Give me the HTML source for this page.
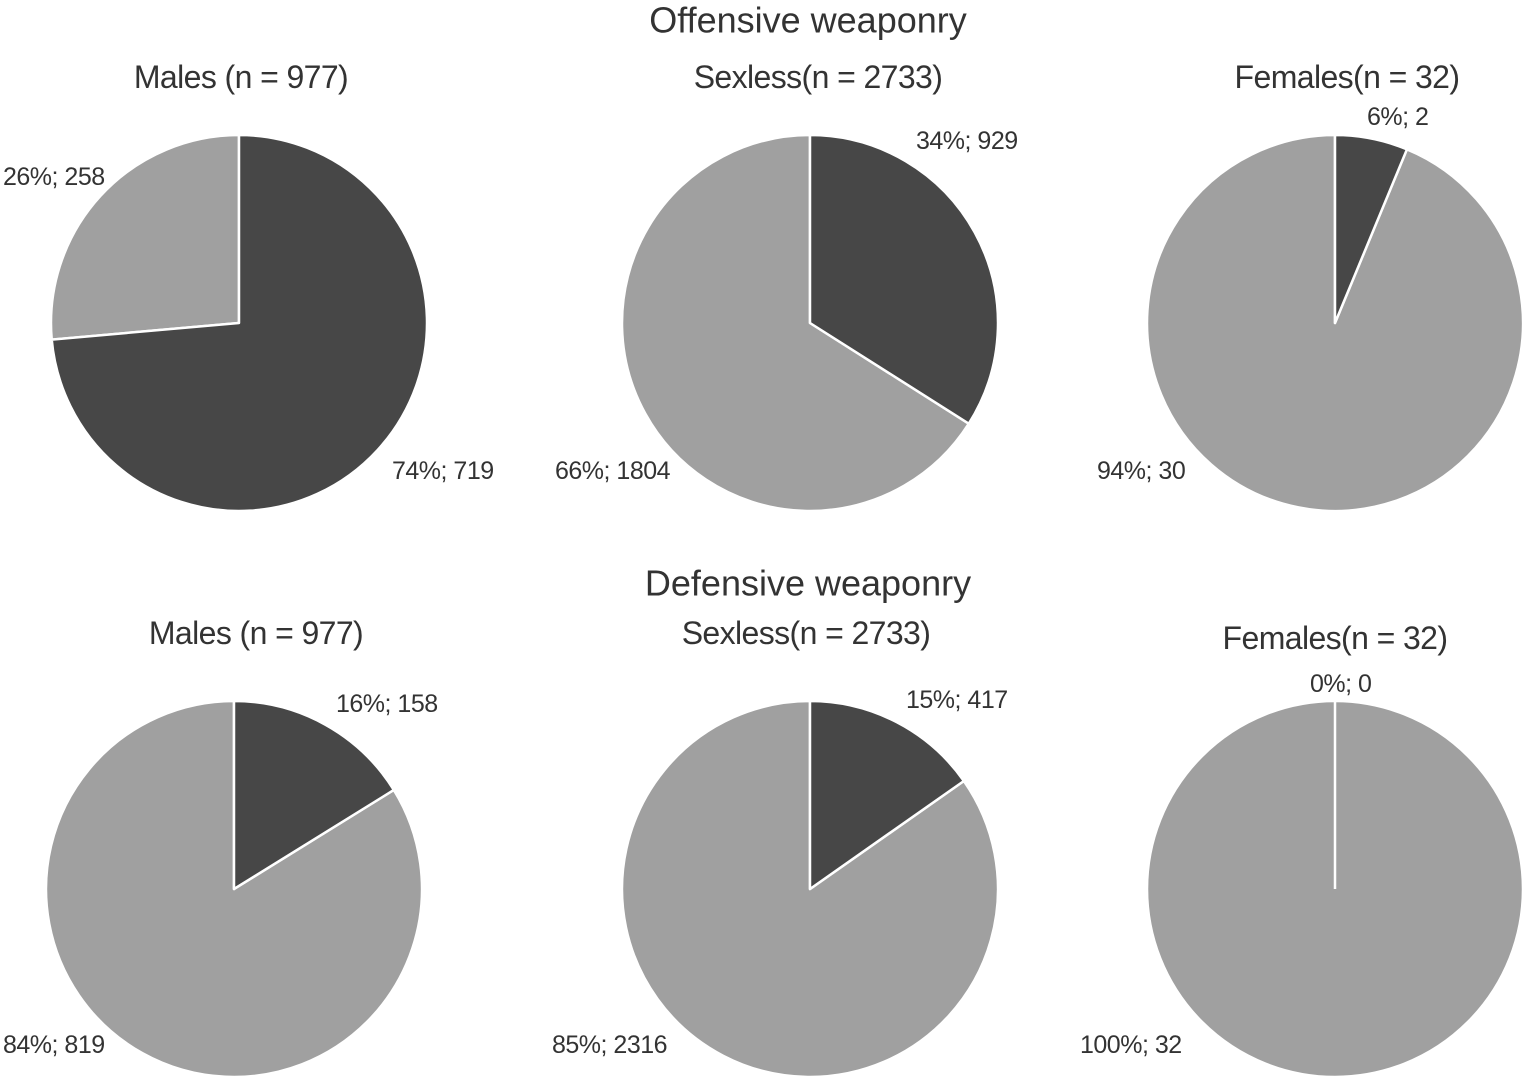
<!DOCTYPE html>
<html><head><meta charset="utf-8"><style>
html,body{margin:0;padding:0;background:#fff}
svg text{font-family:"Liberation Sans",sans-serif;fill:#333}
</style></head><body>
<svg id="c" width="1525" height="1081"></svg>
<script>
const panelNames = ["males-offensive","sexless-offensive","females-offensive","males-defensive","sexless-defensive","females-defensive"];
const subtitles = ["Males (n = 977)","Sexless(n = 2733)","Females(n = 32)","Males (n = 977)","Sexless(n = 2733)","Females(n = 32)"];
const weaponCounts = [719,929,2,158,417,0];
const otherCounts = [258,1804,30,819,2316,32];
const weaponLabels = ["74%; 719","34%; 929","6%; 2","16%; 158","15%; 417","0%; 0"];
const otherLabels = ["26%; 258","66%; 1804","94%; 30","84%; 819","85%; 2316","100%; 32"];
const sectionTitles = ["Offensive weaponry","Defensive weaponry"];

// layout
const centers = [[239,323],[810,323],[1335,323],[234,889],[810,889],[1335,889]];
const R = 188;
const subPos = [[241,77],[818,77],[1347,77],[256,633],[806,633],[1335,638]];
const wLabPos = [[392,471,"start"],[916,141,"start"],[1367,117,"start"],[336,704,"start"],[906,700,"start"],[1310,684,"start"]];
const oLabPos = [[3,177,"start"],[555,471,"start"],[1097,471,"start"],[3,1045,"start"],[552,1045,"start"],[1080,1045,"start"]];
const titlePos = [[808,20],[808,583]];

const NS="http://www.w3.org/2000/svg";
const svg=document.getElementById('c');
function mk(tag,attrs,parent){const e=document.createElementNS(NS,tag);for(const k in attrs)e.setAttribute(k,attrs[k]);(parent||svg).appendChild(e);return e;}
function pt(cx,cy,a){return [cx+R*Math.sin(a),cy-R*Math.cos(a)];}
function slice(cx,cy,a0,a1,fill,g){
  if(a1-a0>=2*Math.PI-1e-9){
    return mk('circle',{cx:cx,cy:cy,r:R,fill:fill,stroke:'#fff','stroke-width':2.5},g);
  }
  const p0=pt(cx,cy,a0),p1=pt(cx,cy,a1);
  const large=(a1-a0)>Math.PI?1:0;
  return mk('path',{d:`M${cx},${cy}L${p0[0]},${p0[1]}A${R},${R} 0 ${large} 1 ${p1[0]},${p1[1]}Z`,fill:fill,stroke:'#fff','stroke-width':2.5,'stroke-linejoin':'round'},g);
}
sectionTitles.forEach((t,i)=>{
  const e=mk('text',{x:titlePos[i][0],y:titlePos[i][1],'text-anchor':'middle','dominant-baseline':'central','font-size':36,'letter-spacing':0});
  e.textContent=t;
  
  
});
panelNames.forEach((n,i)=>{
  const g=mk('g',{});
  
  
  const [cx,cy]=centers[i];
  const total=weaponCounts[i]+otherCounts[i];
  const aw=2*Math.PI*weaponCounts[i]/total;
  if(otherCounts[i]>0){
    const s=slice(cx,cy,aw,2*Math.PI,'#a0a0a0',g);
    
    
  }
  if(weaponCounts[i]>0){
    const s=slice(cx,cy,0,aw,'#474747',g);
    
    
  } else {
    mk('line',{x1:cx,y1:cy,x2:cx,y2:cy-R,stroke:'#fff','stroke-width':2.5},g);
  }
  const st=mk('text',{x:subPos[i][0],y:subPos[i][1],'text-anchor':'middle','dominant-baseline':'central','font-size':32,'letter-spacing':-0.6},g);
  st.textContent=subtitles[i];
  
  
  const wl=mk('text',{x:wLabPos[i][0],y:wLabPos[i][1],'text-anchor':wLabPos[i][2],'dominant-baseline':'central','font-size':25,'letter-spacing':-0.5},g);
  wl.textContent=weaponLabels[i];
  
  
  const ol=mk('text',{x:oLabPos[i][0],y:oLabPos[i][1],'text-anchor':oLabPos[i][2],'dominant-baseline':'central','font-size':25,'letter-spacing':-0.5},g);
  ol.textContent=otherLabels[i];
  
  
});
</script>
</body></html>
